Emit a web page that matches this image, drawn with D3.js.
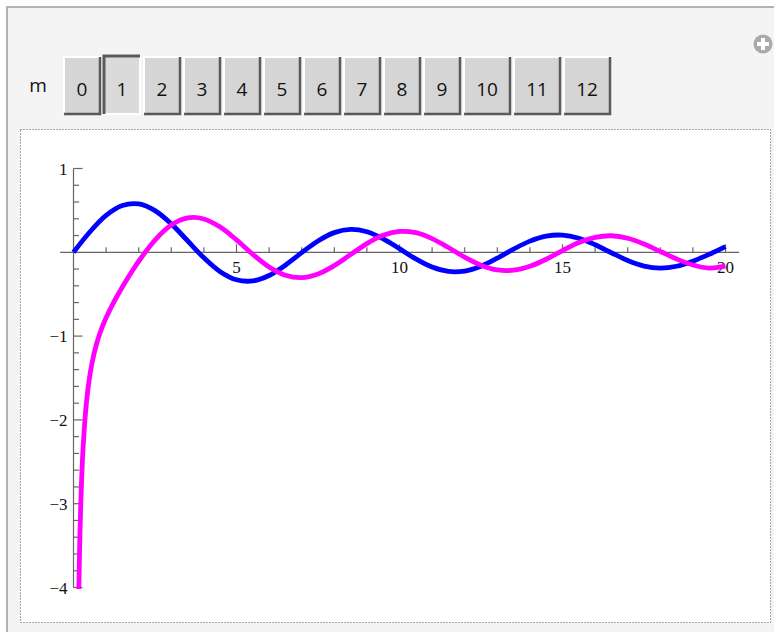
<!DOCTYPE html>
<html>
<head>
<meta charset="utf-8">
<script src="https://cdn.jsdelivr.net/npm/d3@7"></script>
<style>
  html, body { margin: 0; padding: 0; background: #ffffff; }
  svg { display: block; }
</style>
</head>
<body>
<svg id="chart" width="774" height="632"></svg>
<script>
// Bessel functions of order m = 1 on 0 ≤ x ≤ 20: J (blue) and Y (magenta)
const mOptions = ["0", "1", "2", "3", "4", "5", "6", "7", "8", "9", "10", "11", "12"];
const selectedM = "1";

const jX = [0, 0.5, 1, 1.5, 2, 2.5, 3, 3.5, 4, 4.5, 5, 5.5, 6, 6.5, 7, 7.5, 8, 8.5, 9, 9.5,
            10, 10.5, 11, 11.5, 12, 12.5, 13, 13.5, 14, 14.5, 15, 15.5, 16, 16.5, 17, 17.5, 18, 18.5, 19, 19.5, 20];
const jValues = [0, 0.2423, 0.4401, 0.5579, 0.5767, 0.4971, 0.3391, 0.1374, -0.0660, -0.2311,
                 -0.3276, -0.3414, -0.2767, -0.1538, -0.0047, 0.1352, 0.2346, 0.2731, 0.2453, 0.1613,
                 0.0435, -0.0789, -0.1768, -0.2284, -0.2234, -0.1655, -0.0703, 0.0380, 0.1334, 0.1934,
                 0.2051, 0.1672, 0.0904, -0.0057, -0.0977, -0.1641, -0.1880, -0.1663, -0.1057, -0.0247, 0.0668];

const yX = [0.15, 0.175, 0.2, 0.25, 0.3, 0.4, 0.5, 0.6, 0.7, 0.8, 0.9, 1, 1.2, 1.4, 1.6, 1.8, 2,
            2.5, 3, 3.5, 4, 4.5, 5, 5.5, 6, 6.5, 7, 7.5, 8, 8.5, 9, 9.5, 10, 10.5, 11, 11.5, 12,
            12.5, 13, 13.5, 14, 14.5, 15, 15.5, 16, 16.5, 17, 17.5, 18, 18.5, 19, 19.5, 20];
const yValues = [-4.36, -3.78, -3.3238, -2.7041, -2.2931, -1.7809, -1.4715, -1.2604, -1.1032, -0.9781,
                 -0.8731, -0.7812, -0.6211, -0.4791, -0.3476, -0.2237, -0.1070,
                 0.1459, 0.3247, 0.4102, 0.3979, 0.3010, 0.1479, -0.0238, -0.1750, -0.2741, -0.3027,
                 -0.2591, -0.1581, -0.0262, 0.1043, 0.2030, 0.2490, 0.2337, 0.1637, 0.0571, -0.0571,
                 -0.1538, -0.2101, -0.2140, -0.1666, -0.0828, 0.0211, 0.1163, 0.1779, 0.1973, 0.1672,
                 0.0985, 0.0101, -0.0794, -0.1519, -0.1885, -0.1655];

const xMajorTicks = [5, 10, 15, 20];
const yMajorTicks = [-4, -3, -2, -1, 1];
const yTickLabels = ["\u22124", "\u22123", "\u22122", "\u22121", "1"];

const svg = d3.select("#chart");

// ---- outer control panel ----
svg.append("rect").attr("x", 0).attr("y", 0).attr("width", 774).attr("height", 632).attr("fill", "#ffffff");
svg.append("rect").attr("x", 7).attr("y", 7).attr("width", 780).attr("height", 640)
  .attr("fill", "#f4f4f4").attr("stroke", "#b3b3b3").attr("stroke-width", 2);

// plus icon (top right)
const plus = svg.append("g").attr("transform", "translate(763,44)");
plus.append("circle").attr("r", 9.5).attr("fill", "#a9a9a9");
plus.append("rect").attr("x", -6).attr("y", -2).attr("width", 12).attr("height", 4).attr("fill", "#ffffff");
plus.append("rect").attr("x", -2).attr("y", -6).attr("width", 4).attr("height", 12).attr("fill", "#ffffff");

// control label
svg.append("text").attr("x", 38).attr("y", 92).attr("text-anchor", "middle")
  .attr("font-family", "'Open Sans', sans-serif").attr("font-size", 19).attr("fill", "#111")
  .text("m");

// setter bar buttons
const btnTop = 57, btnH = 57, gap = 4;
let bx = 64;
const buttons = mOptions.map(lbl => {
  const w = lbl.length > 1 ? 46 : 36;
  const b = { lbl, x: bx, w };
  bx += w + gap;
  return b;
});
const bg = svg.append("g").selectAll("g").data(buttons).join("g")
  .attr("transform", d => `translate(${d.x},${btnTop})`);
bg.append("rect").attr("width", d => d.w).attr("height", btnH)
  .attr("fill", d => d.lbl === selectedM ? "#dadada" : "#d5d5d5");
// light edges
bg.append("path")
  .attr("d", d => d.lbl === selectedM
    ? `M${d.w},0 V${btnH} H0`
    : `M0,${btnH} V0 H${d.w}`)
  .attr("fill", "none").attr("stroke", "#ffffff").attr("stroke-width", 2);
// dark edges
bg.append("path")
  .attr("d", d => d.lbl === selectedM
    ? `M0,${btnH} V-1 H${d.w}`
    : `M0,${btnH} H${d.w} V0`)
  .attr("fill", "none").attr("stroke", "#5a5a5a").attr("stroke-width", d => d.lbl === selectedM ? 3 : 2.5);
bg.append("text").attr("x", d => d.w / 2).attr("y", 39).attr("text-anchor", "middle")
  .attr("font-family", "'Open Sans', sans-serif").attr("font-size", 19).attr("fill", "#111")
  .text(d => d.lbl);

// ---- plot panel ----
svg.append("rect").attr("x", 20.5).attr("y", 129.5).attr("width", 750).attr("height", 493)
  .attr("fill", "#ffffff").attr("stroke", "#555").attr("stroke-width", 1)
  .attr("stroke-dasharray", "1,2");

const x = d3.scaleLinear().domain([0, 20]).range([73.5, 725.5]);
const y = d3.scaleLinear().domain([-4, 1]).range([587.5, 168.5]);

const axisColor = "#666666";
const g = svg.append("g");

// x axis: line, minor ticks every 1, major every 5 (ticks point up)
g.append("line").attr("x1", x(-0.41)).attr("x2", x(20.42))
  .attr("y1", y(0)).attr("y2", y(0)).attr("stroke", axisColor).attr("stroke-width", 1.2);
const xMinor = d3.range(1, 21).filter(v => !xMajorTicks.includes(v));
g.append("g").selectAll("line").data(xMinor).join("line")
  .attr("x1", d => x(d)).attr("x2", d => x(d)).attr("y1", y(0)).attr("y2", y(0) - 5)
  .attr("stroke", axisColor).attr("stroke-width", 1.2);
g.append("g").selectAll("line").data(xMajorTicks).join("line")
  .attr("x1", d => x(d)).attr("x2", d => x(d)).attr("y1", y(0)).attr("y2", y(0) - 8)
  .attr("stroke", axisColor).attr("stroke-width", 1.2);
g.append("g").selectAll("text").data(xMajorTicks).join("text")
  .attr("x", d => x(d)).attr("y", y(0) + 21).attr("text-anchor", "middle")
  .attr("font-family", "'Liberation Serif', 'Times New Roman', serif").attr("font-size", 17)
  .attr("fill", "#111").text(d => d);

// y axis: line, minor ticks every 0.2, major on integers (ticks point right)
g.append("line").attr("x1", x(0)).attr("x2", x(0))
  .attr("y1", y(1)).attr("y2", y(-4)).attr("stroke", axisColor).attr("stroke-width", 1.2);
const yMinor = d3.range(-20, 6).map(k => k / 5).filter(v => Math.abs(v - Math.round(v)) > 1e-9);
g.append("g").selectAll("line").data(yMinor).join("line")
  .attr("x1", x(0)).attr("x2", x(0) + 5.5).attr("y1", d => y(d)).attr("y2", d => y(d))
  .attr("stroke", axisColor).attr("stroke-width", 1.2);
g.append("g").selectAll("line").data(yMajorTicks).join("line")
  .attr("x1", x(0)).attr("x2", x(0) + 9).attr("y1", d => y(d)).attr("y2", d => y(d))
  .attr("stroke", axisColor).attr("stroke-width", 1.2);
g.append("g").selectAll("text").data(yMajorTicks).join("text")
  .attr("x", x(0) - 6).attr("y", d => y(d) + 6).attr("text-anchor", "end")
  .attr("font-family", "'Liberation Serif', 'Times New Roman', serif").attr("font-size", 17)
  .attr("fill", "#111").text((d, i) => yTickLabels[i]);

// curves, clipped to the plot range
svg.append("clipPath").attr("id", "plotClip").append("rect")
  .attr("x", x(-0.5)).attr("y", y(1.2)).attr("width", x(21) - x(-0.5)).attr("height", y(-4) - y(1.2) + 1.5);

const line = d3.line().x(d => x(d[0])).y(d => y(d[1])).curve(d3.curveCatmullRom.alpha(0.5));
const curves = svg.append("g").attr("clip-path", "url(#plotClip)");
curves.append("path").datum(d3.zip(jX, jValues)).attr("d", line)
  .attr("fill", "none").attr("stroke", "#0000ff").attr("stroke-width", 4.8);
curves.append("path").datum(d3.zip(yX, yValues)).attr("d", line)
  .attr("fill", "none").attr("stroke", "#ff00ff").attr("stroke-width", 4.8);
</script>
</body>
</html>
